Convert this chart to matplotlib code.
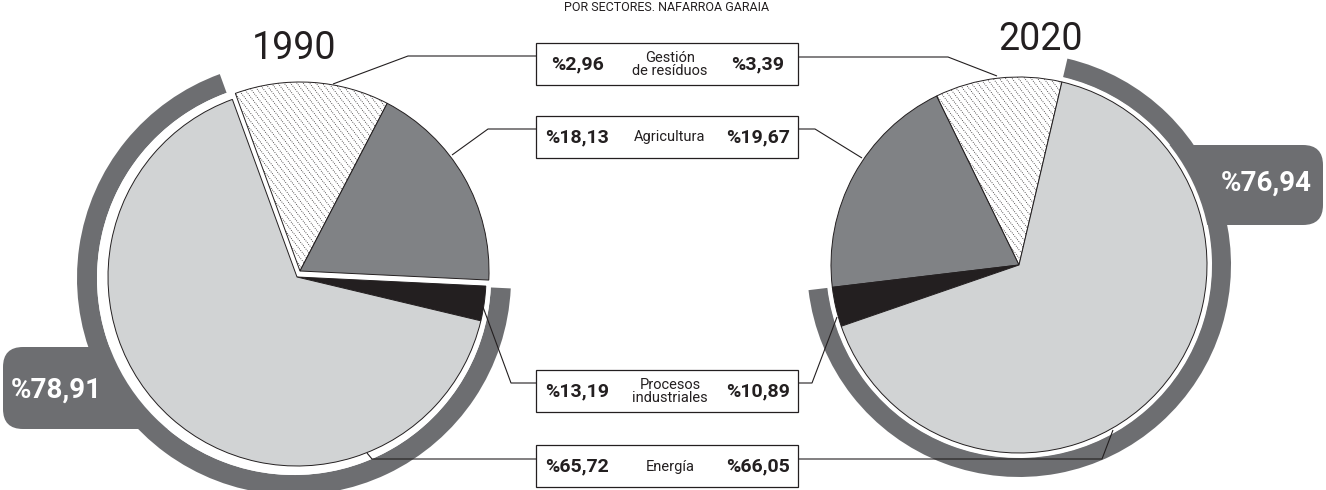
import numpy as np
import matplotlib
matplotlib.use('Agg')
import matplotlib.pyplot as plt
from matplotlib.patches import Wedge, Circle, FancyBboxPatch, Rectangle

# ---------------- data ----------------
categories = ['Gestión\nde resíduos', 'Agricultura', 'Procesos\nindustriales', 'Energía']
pct_1990 = [2.96, 18.13, 13.19, 65.72]
pct_2020 = [3.39, 19.67, 10.89, 66.05]
years = ['1990', '2020']
band_1990 = 78.91
band_2020 = 76.94
title = 'POR SECTORES. NAFARROA GARAIA'
# order of the wedges as they appear in the picture (index into categories)
wedge_order = [2, 1, 0, 3]

# ---------------- style ----------------
INK = '#231f20'
BAND = '#6d6e71'
wedge_colors = ['white', '#808285', INK, '#d1d3d4']
FONT = ['Roboto', 'DejaVu Sans']
plt.rcParams['font.family'] = FONT

W, H = 1326, 490
fig = plt.figure(figsize=(W / 100, H / 100), dpi=100)
ax = fig.add_axes([0, 0, 1, 1])


def P(x, y):
    return (x, H - y)


def pct(v):
    return '%' + f'{v:.2f}'.replace('.', ',')


def hatch(ax, wedge, angle=-52, step=5.0):
    cx, cy = wedge.center
    r = wedge.r
    u = np.array([np.cos(np.radians(angle)), np.sin(np.radians(angle))])
    n = np.array([-u[1], u[0]])
    for d in np.arange(-r * 1.2, r * 1.2, step):
        p0 = np.array([cx, cy]) + d * n - 1.3 * r * u
        p1 = np.array([cx, cy]) + d * n + 1.3 * r * u
        ln, = ax.plot([p0[0], p1[0]], [p0[1], p1[1]], color=INK, lw=0.6,
                      ls=(0, (1.0, 1.6)), zorder=4.5)
        ln.set_clip_path(wedge)


# ---------------- 1990 pie ----------------
c90 = P(297, 277)
vals90 = [pct_1990[i] for i in wedge_order]
ax.add_patch(FancyBboxPatch(P(3, 429), 200, 82,
                            boxstyle='round,pad=0,rounding_size=20',
                            fc=BAND, ec='none', zorder=1))
w90, _ = ax.pie(vals90, radius=189, center=c90, startangle=110, counterclock=False,
                colors=wedge_colors, normalize=True,
                wedgeprops=dict(edgecolor=INK, linewidth=0.7, zorder=4))
bc90 = P(294, 278)
ax.add_patch(Wedge(bc90, 217, w90[3].theta1, w90[2].theta2, width=20,
                   fc=BAND, ec='none', zorder=2))
ax.add_patch(Circle(bc90, 197, fc='white', ec='none', zorder=3))
for w in w90[:2]:
    cx, cy = w.center
    w.set_center((cx + 3, cy + 6))
hatch(ax, w90[0])

# ---------------- 2020 pie ----------------
c20 = P(1019, 265)
vals20 = [pct_2020[i] for i in wedge_order]
ax.add_patch(FancyBboxPatch(P(1100, 225), 223, 80,
                            boxstyle='round,pad=0,rounding_size=20',
                            fc=BAND, ec='none', zorder=1))
w20, _ = ax.pie(vals20, radius=188, center=c20, startangle=76.8, counterclock=True,
                colors=wedge_colors, normalize=True,
                wedgeprops=dict(edgecolor=INK, linewidth=0.7, zorder=4))
ax.add_patch(Wedge(c20, 212, w20[2].theta1, w20[3].theta2, width=19,
                   fc=BAND, ec='none', zorder=2))
ax.add_patch(Circle(c20, 192.5, fc='white', ec='none', zorder=3))
hatch(ax, w20[0])

# band labels
ax.text(*P(56, 390), pct(band_1990), color='white', fontsize=20, fontweight='bold',
        ha='center', va='center', zorder=7)
ax.text(*P(1266, 183), pct(band_2020), color='white', fontsize=20, fontweight='bold',
        ha='center', va='center', zorder=7)

# year labels
ax.text(*P(294, 49), years[0], fontsize=27, color=INK,
        ha='center', va='center', zorder=7)
ax.text(*P(1041, 40), years[1], fontsize=27, color=INK,
        ha='center', va='center', zorder=7)

# title (at the top edge)
ax.text(*P(667, 1), title, fontsize=9, color=INK, ha='center', va='top', zorder=7)

# ---------------- label boxes and leaders ----------------
box_tops = [43, 116, 370, 445]
left_leaders = [[(536, 56), (408, 56), (333, 84)],
                [(536, 129), (488, 129), (452, 155)],
                [(536, 383), (511, 383), (483, 307)],
                [(536, 459), (372, 459), (367, 453)]]
right_leaders = [[(798, 57), (948, 57), (997, 76)],
                 [(798, 129), (815, 129), (862, 158)],
                 [(798, 383), (812, 383), (837, 317)],
                 [(798, 459), (1102, 459), (1113, 430)]]

for i, cat in enumerate(categories):
    top = box_tops[i]
    ax.add_patch(Rectangle(P(536, top + 42), 262, 42, fc='white', ec=INK,
                           lw=0.9, zorder=6))
    yc = top + 21.5
    ax.text(*P(577, yc), pct(pct_1990[i]), fontsize=14, fontweight='bold',
            color=INK, ha='center', va='center', zorder=7)
    ax.text(*P(758, yc), pct(pct_2020[i]), fontsize=14, fontweight='bold',
            color=INK, ha='center', va='center', zorder=7)
    ax.text(*P(670, yc), cat, fontsize=10.5, color=INK,
            ha='center', va='center', linespacing=0.85, zorder=7)
    for path in (left_leaders[i], right_leaders[i]):
        xs = [p[0] for p in path]
        ys = [H - p[1] for p in path]
        ax.plot(xs, ys, color=INK, lw=0.8, zorder=6, solid_capstyle='butt')

ax.set_xlim(0, W)
ax.set_ylim(0, H)
ax.set_aspect('auto')
ax.axis('off')
fig.savefig('out.png', dpi=100, facecolor='white')
